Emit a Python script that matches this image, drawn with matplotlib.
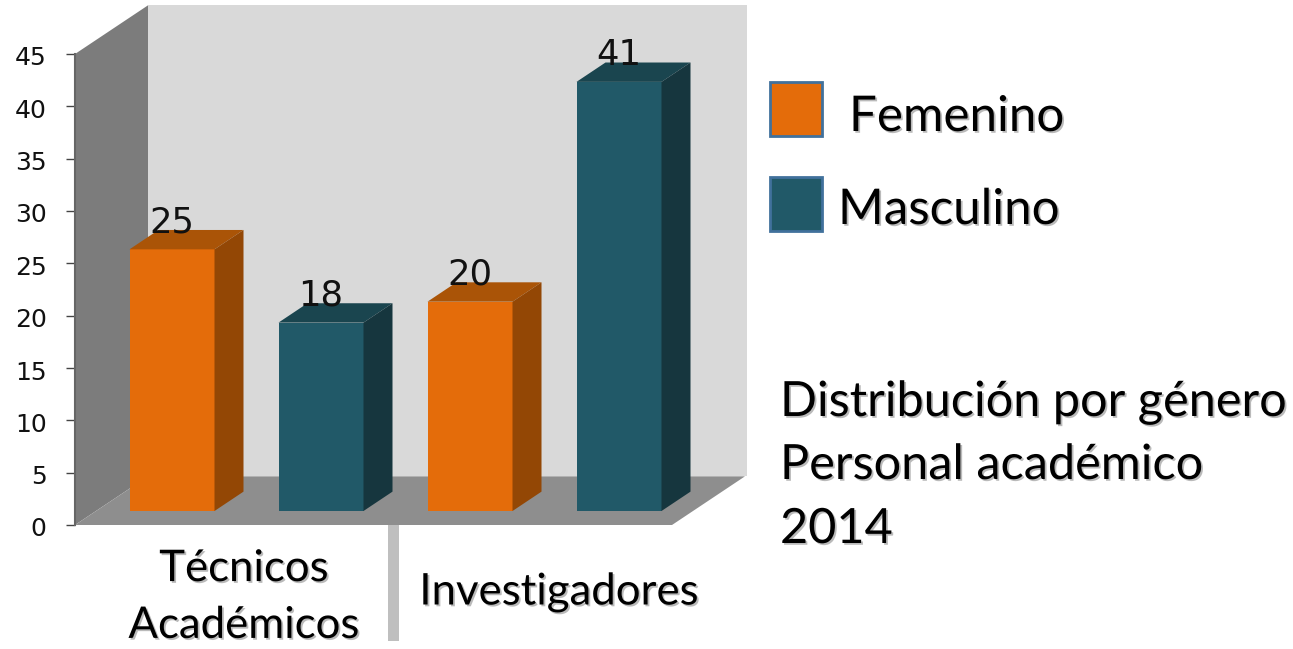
import matplotlib.pyplot as plt
import matplotlib.patheffects as pe
from matplotlib.patches import Rectangle
from matplotlib.transforms import ScaledTranslation

W, H = 1293, 649

categories = ["Técnicos\nAcadémicos", "Investigadores"]
bar_values = [25, 18, 20, 41]
bar_series = ["Femenino", "Masculino", "Femenino", "Masculino"]
y_ticks = [0, 5, 10, 15, 20, 25, 30, 35, 40, 45]
title_lines = ["Distribución por género", "Personal académico", "2014"]

colors = {
    "Femenino": ("#E46C0A", "#AA5407", "#934705"),
    "Masculino": ("#215968", "#1A454F", "#16363E"),
}

plt.rcParams['font.family'] = ['DejaVu Sans']


def fx(px):
    return px / W


def fy(py):
    return 1 - py / H


shadow = [pe.SimplePatchShadow(offset=(1.3, -1.3), shadow_rgbFace='#777777', alpha=0.5),
          pe.Normal()]

fig = plt.figure(figsize=(W / 100, H / 100), dpi=100)
fig.patch.set_facecolor('white')

# one x unit is the step between bars, 149 px
ax = fig.add_axes([fx(75), fy(525), 675 / W, 471 / H])
ax.set_ylim(0, 45)
ax.set_xlim(-97 / 149, 578 / 149)
ax.patch.set_visible(False)

x0, x1 = ax.get_xlim()
front_right = (672 - 172) / 149
wall_dx, wall_dy = 73 / 149, 4.65

# walls and floor
ax.fill([x0 + wall_dx, front_right + wall_dx + 2 / 149, front_right + wall_dx + 2 / 149, x0 + wall_dx],
        [wall_dy, wall_dy, 45 + wall_dy, 45 + wall_dy], color='#D9D9D9', lw=0, zorder=1, clip_on=False)
ax.fill([x0, x0 + wall_dx, x0 + wall_dx, x0], [0, wall_dy, 45 + wall_dy, 45],
        color='#7C7C7C', lw=0, zorder=2, clip_on=False)
ax.fill([x0, front_right, front_right + wall_dx, x0 + wall_dx], [0, 0, wall_dy, wall_dy],
        color='#8E8E8E', lw=0, zorder=2, clip_on=False)

# bars, raised a little off the floor front
base = 14 / 10.47
bar_w = 85 / 149
dx, dy = 29 / 149, 1.85
for i, (v, s) in enumerate(zip(bar_values, bar_series)):
    front, top, side = colors[s]
    left, right = i - bar_w / 2, i + bar_w / 2
    ax.bar(i, v, bottom=base, width=bar_w, color=front, lw=0, zorder=4)
    ax.fill([left, right, right + dx, left + dx], [base + v, base + v, base + v + dy, base + v + dy],
            color=top, lw=0, zorder=4, clip_on=False)
    ax.fill([right, right + dx, right + dx, right], [base, base + dy, base + v + dy, base + v],
            color=side, lw=0, zorder=4, clip_on=False)
    ax.text(i, base + v + dy - 0.2, str(v), ha='center', va='baseline', fontsize=25.5,
            color='#111111', zorder=5, clip_on=False)

ax.set_xticks([])
ax.set_yticks(y_ticks)
ax.tick_params(axis='y', length=6.5, width=1, color='#444444', pad=14, labelsize=18, labelcolor='#111111')
for lab in ax.get_yticklabels():
    lab.set_transform(lab.get_transform() + ScaledTranslation(0, -2 / 100, fig.dpi_scale_trans))
for name in ['top', 'right', 'bottom']:
    ax.spines[name].set_visible(False)
ax.spines['left'].set_color('#666666')
ax.spines['left'].set_linewidth(1.5)

# separator between the two groups
fig.add_artist(Rectangle((fx(388), fy(641)), 11 / W, 116 / H, transform=fig.transFigure,
                         facecolor='#BFBFBF', edgecolor='none'))

font = ['Lato', 'DejaVu Sans']
fig.text(fx(244), fy(597), categories[0], ha='center', va='center', fontsize=31.5, family=font,
         linespacing=1.48, path_effects=shadow)
fig.text(fx(559), fy(592), categories[1], ha='center', va='center', fontsize=31.5, family=font,
         path_effects=shadow)

# legend
for py, label, tx, base_py in [(82, "Femenino", 849, 131), (177, "Masculino", 838, 224)]:
    fig.add_artist(Rectangle((fx(770), fy(py + 54)), 52 / W, 54 / H, transform=fig.transFigure,
                             facecolor=colors[label][0], edgecolor='#41719C', lw=2))
    fig.text(fx(tx), fy(base_py), label, ha='left', va='baseline', fontsize=35.5, family=font,
             path_effects=shadow)

for py, line in zip([416, 479, 543], title_lines):
    fig.text(fx(780), fy(py), line, ha='left', va='baseline', fontsize=35, family=font,
             path_effects=shadow)

plt.savefig("out.png", dpi=100)
plt.close()
